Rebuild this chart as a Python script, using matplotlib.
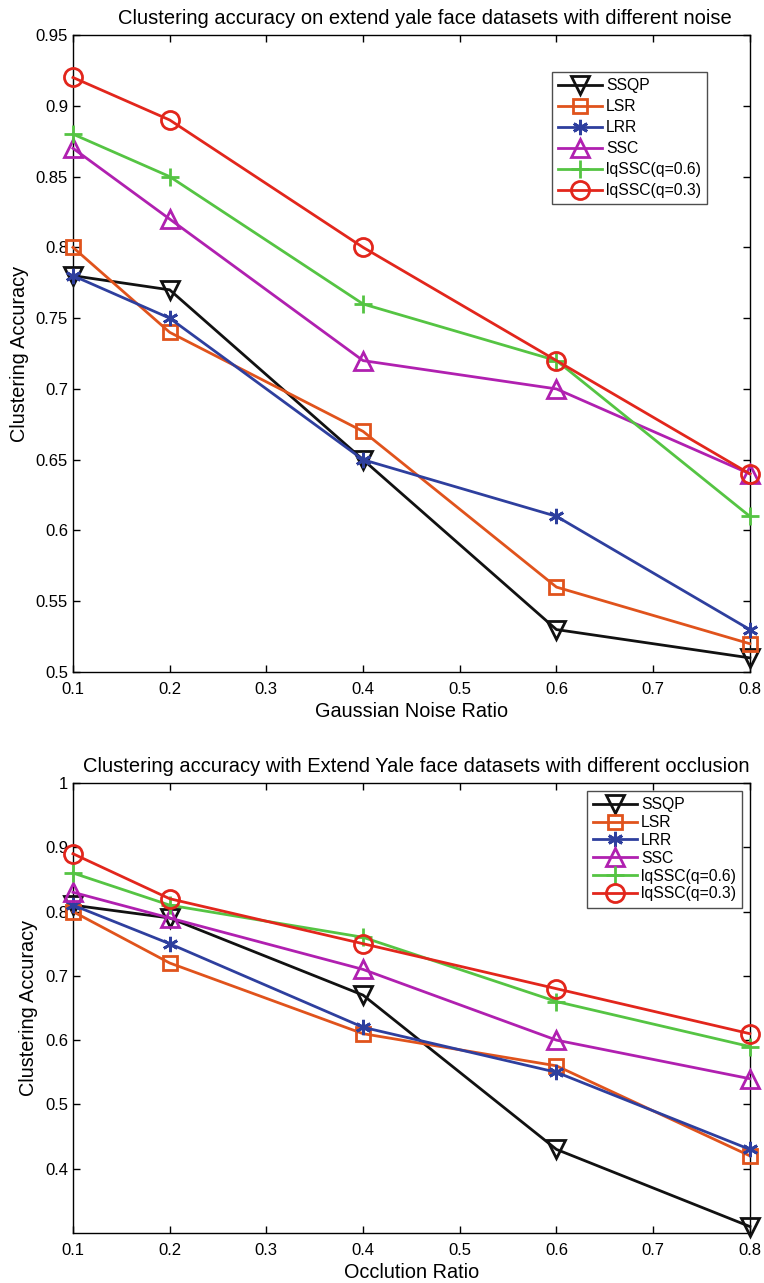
import matplotlib
matplotlib.use("Agg")
import matplotlib.pyplot as plt
import numpy as np

plt.rcParams['font.family'] = ['Liberation Sans', 'DejaVu Sans']

x = [0.1, 0.2, 0.4, 0.6, 0.8]
labels = ["SSQP", "LSR", "LRR", "SSC", "lqSSC(q=0.6)", "lqSSC(q=0.3)"]

noise_ssqp = [0.78, 0.77, 0.65, 0.53, 0.51]
noise_lsr = [0.80, 0.74, 0.67, 0.56, 0.52]
noise_lrr = [0.78, 0.75, 0.65, 0.61, 0.53]
noise_ssc = [0.87, 0.82, 0.72, 0.70, 0.64]
noise_lq06 = [0.88, 0.85, 0.76, 0.72, 0.61]
noise_lq03 = [0.92, 0.89, 0.80, 0.72, 0.64]

occ_ssqp = [0.81, 0.79, 0.67, 0.43, 0.31]
occ_lsr = [0.80, 0.72, 0.61, 0.56, 0.42]
occ_lrr = [0.81, 0.75, 0.62, 0.55, 0.43]
occ_ssc = [0.83, 0.79, 0.71, 0.60, 0.54]
occ_lq06 = [0.86, 0.81, 0.76, 0.66, 0.59]
occ_lq03 = [0.89, 0.82, 0.75, 0.68, 0.61]

colors = ['#111111', '#e0531c', '#2e3f9e', '#b020b0', '#55c443', '#e2261c']
markers = ['v', 's', (6, 2, 0), '^', '+', 'o']
msizes = [13, 10, 11, 13, 13, 13]

fig = plt.figure(figsize=(7.64, 12.83), dpi=100)
ax1 = fig.add_axes([0.0955, 0.4762, 0.886, 0.4965])
ax2 = fig.add_axes([0.0955, 0.039, 0.886, 0.3507])

def draw(ax, series, ylim, yticks, title, title_x, xlabel, leg_bbox, lspace):
    for s, lab, c, m, ms in zip(series, labels, colors, markers, msizes):
        ax.plot(x, s, color=c, lw=2.0, marker=m, markersize=ms,
                markerfacecolor='none' if m not in ('+', (6, 2, 0)) else c,
                markeredgecolor=c, markeredgewidth=2.0, label=lab, clip_on=False, zorder=3)
    ax.set_xlim(0.1, 0.8)
    ax.set_ylim(*ylim)
    xt = list(np.round(np.arange(0.1, 0.81, 0.1), 2))
    ax.set_xticks(xt)
    ax.set_xticklabels([f"{v:g}" for v in xt])
    ax.set_yticks(yticks)
    ax.set_yticklabels([f"{v:g}" for v in yticks])
    ax.tick_params(direction='in', top=True, right=True, labelsize=12, length=5, width=1)
    ax.tick_params(axis='x', pad=7)
    for sp in ax.spines.values():
        sp.set_linewidth(1.0)
    ax.set_title(title, fontsize=14.5, pad=8, x=title_x)
    ax.set_xlabel(xlabel, fontsize=14.3, labelpad=4)
    ax.set_ylabel("Clustering Accuracy", fontsize=14.3, labelpad=5)
    leg = ax.legend(loc='upper left', bbox_to_anchor=leg_bbox, bbox_transform=fig.transFigure,
                    fontsize=11.3, frameon=True, fancybox=False, edgecolor='#222222',
                    handlelength=2.8, handletextpad=0.25, labelspacing=lspace, borderpad=0.4,
                    borderaxespad=0)
    leg.get_frame().set_linewidth(1.0)

draw(ax1, [noise_ssqp, noise_lsr, noise_lrr, noise_ssc, noise_lq06, noise_lq03],
     (0.5, 0.95), list(np.round(np.arange(0.5, 0.951, 0.05), 2)),
     "Clustering accuracy on extend yale face datasets with different noise", 0.52,
     "Gaussian Noise Ratio", (552 / 764, 1 - 72 / 1283), 0.38)
draw(ax2, [occ_ssqp, occ_lsr, occ_lrr, occ_ssc, occ_lq06, occ_lq03],
     (0.3, 1.0), list(np.round(np.arange(0.4, 1.001, 0.1), 2)),
     "Clustering accuracy with Extend Yale face datasets with different occlusion", 0.507,
     "Occlution Ratio", (587 / 764, 1 - 791 / 1283), 0.18)

fig.savefig("out.png", dpi=100)
